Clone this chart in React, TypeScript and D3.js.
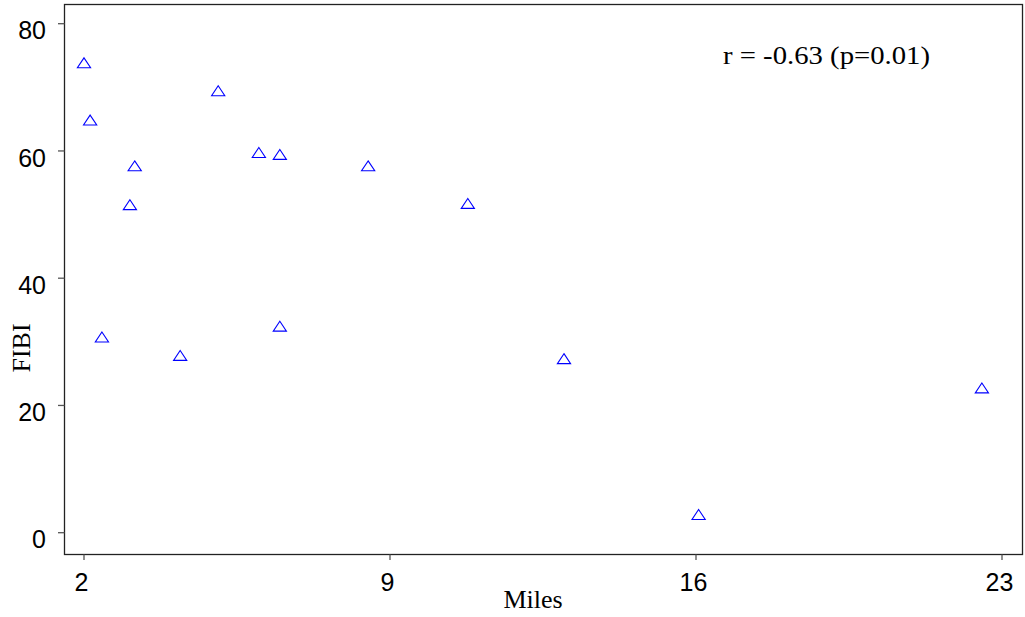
import React from "react";
import * as d3 from "d3";

const miles = [2.0, 2.14, 2.41, 3.05, 3.16, 4.2, 5.07, 6.0, 6.48, 6.48, 8.5, 10.78, 12.98, 16.06, 22.54];
const fibi = [73.6, 64.6, 30.5, 51.3, 57.4, 27.6, 69.2, 59.5, 59.2, 32.2, 57.4, 51.5, 27.1, 2.6, 22.5];
const xTicks = [2, 9, 16, 23];
const yTicks = [0, 20, 40, 60, 80];
const annotation = "r = -0.63 (p=0.01)";
const xLabel = "Miles";
const yLabel = "FIBI";

export default function App() {
  const W = 1025, H = 617;
  const frame = { left: 64.5, right: 1022.5, top: 4.5, bottom: 554.5 };
  const x = d3.scaleLinear().domain([2, 23]).range([84, 1002]);
  const y = d3.scaleLinear().domain([0, 80]).range([532.7, 23.7]);
  const sans = "'Liberation Sans', Arial, sans-serif";
  const serif = "'Liberation Serif', 'Times New Roman', serif";
  const tri = (cx: number, cy: number) => {
    const hw = 6.6;
    const path = d3.path();
    path.moveTo(cx, cy - 6.6);
    path.lineTo(cx + hw, cy + 3.3);
    path.lineTo(cx - hw, cy + 3.3);
    path.closePath();
    return path.toString();
  };
  return (
    <svg width={W} height={H} style={{ position: "absolute", left: 0, top: 0, background: "#fff" }}>
      <rect x={0} y={0} width={W} height={H} fill="#fff" />
      <rect
        x={frame.left}
        y={frame.top}
        width={frame.right - frame.left}
        height={frame.bottom - frame.top}
        fill="none"
        stroke="#222"
        strokeWidth={1.3}
      />
      {yTicks.map((t) => (
        <g key={"y" + t}>
          <line x1={58} x2={frame.left} y1={y(t)} y2={y(t)} stroke="#555" strokeWidth={1.3} />
          <text x={46} y={y(t) + 15.6} textAnchor="end" fontFamily={sans} fontSize={25} fill="#000">
            {t}
          </text>
        </g>
      ))}
      {xTicks.map((t) => (
        <g key={"x" + t}>
          <line x1={x(t)} x2={x(t)} y1={frame.bottom} y2={560} stroke="#555" strokeWidth={1.3} />
          <text x={x(t) - 2.5} y={591} textAnchor="middle" fontFamily={sans} fontSize={25} fill="#000">
            {t}
          </text>
        </g>
      ))}
      {miles.map((m, i) => (
        <path key={"p" + i} d={tri(x(m), y(fibi[i]))} fill="none" stroke="#0000ff" strokeWidth={1.1} />
      ))}
      <text x={723} y={63.5} fontFamily={serif} fontSize={25} textLength={207} lengthAdjust="spacingAndGlyphs" fill="#000">
        {annotation}
      </text>
      <text x={533} y={608} textAnchor="middle" fontFamily={serif} fontSize={26} fill="#000">
        {xLabel}
      </text>
      <text
        transform={`translate(29.5, 348) rotate(-90)`}
        textAnchor="middle"
        fontFamily={serif}
        fontSize={26}
        fill="#000"
      >
        {yLabel}
      </text>
    </svg>
  );
}
